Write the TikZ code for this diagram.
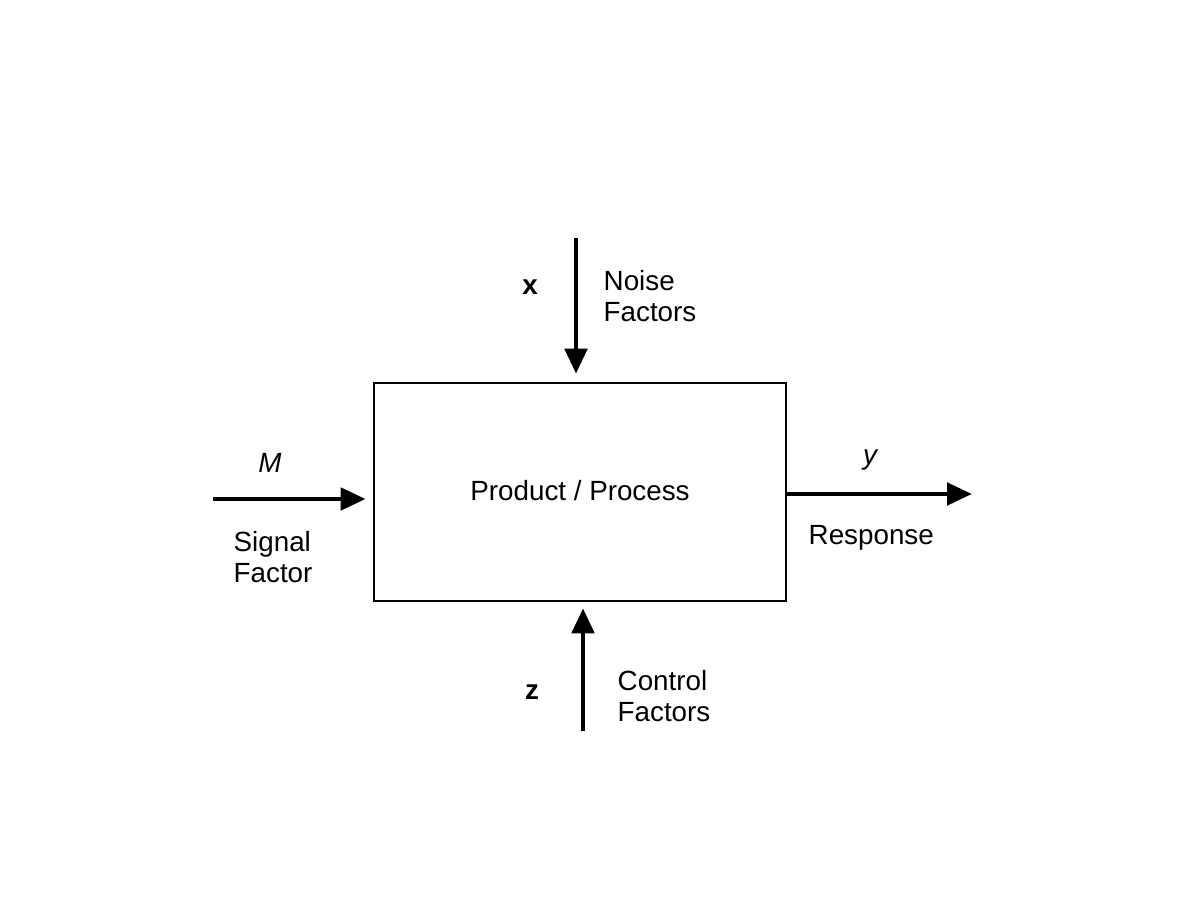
\documentclass[tikz,border=0pt]{standalone}
\usepackage{fontspec}
\setmainfont{Liberation Sans}
\usepackage{tikz}
\usetikzlibrary{arrows.meta,positioning,calc}
\tikzset{
  pd/box/.style={draw, line width=0.7pt, minimum width=41.2mm, minimum height=21.8mm, align=center, inner sep=0pt},
  pd/flow/.style={line width=1.4pt, -{Triangle[length=2.5mm, width=2.2mm]}},
  pd/text/.style={font=\fontsize{7.9}{8.6}\selectfont, inner sep=0pt, align=left},
  pd/var/.style={font=\fontsize{7.9}{8.6}\selectfont\bfseries, inner sep=0pt},
  pd/ivar/.style={font=\fontsize{7.9}{8.6}\selectfont\itshape, inner sep=0pt}
}

\begin{document}
\begin{tikzpicture}[x=0.01cm, y=-0.01cm]
  \useasboundingbox (0,0) rectangle (1188,918);

  \node[pd/box] (proc) at (580,492) {};
  \node[pd/text] (proclabel) at (580,491) {Product / Process};

  % inputs and output
  \coordinate (noisein) at (576,238);
  \coordinate (signalin) at (213,499);
  \coordinate (respout) at (972,494);
  \coordinate (controlin) at (583,731);

  \draw[pd/flow, shorten >=0.8mm] (noisein) -- (noisein |- proc.north);
  \draw[pd/flow, shorten >=0.7mm] (signalin) -- (signalin -| proc.west);
  \draw[pd/flow] (respout -| proc.east) -- (respout);
  \draw[pd/flow, shorten >=0.6mm] (controlin) -- (controlin |- proc.south);

  \node[pd/var] (xvar) at (530,287) {x};
  \node[pd/text, anchor=west] (noise) at (603,296) {Noise\\Factors};

  \node[pd/ivar] (mvar) at (270,463) {M};
  \node[pd/text, anchor=west] (signal) at (233,557) {Signal\\Factor};

  \node[pd/ivar] (yvar) at (870,460) {y};
  \node[pd/text, anchor=west] (resp) at (808,538) {Response};

  \node[pd/var] (zvar) at (532,692) {z};
  \node[pd/text, anchor=west] (control) at (617,696) {Control\\Factors};
\end{tikzpicture}
\end{document}
